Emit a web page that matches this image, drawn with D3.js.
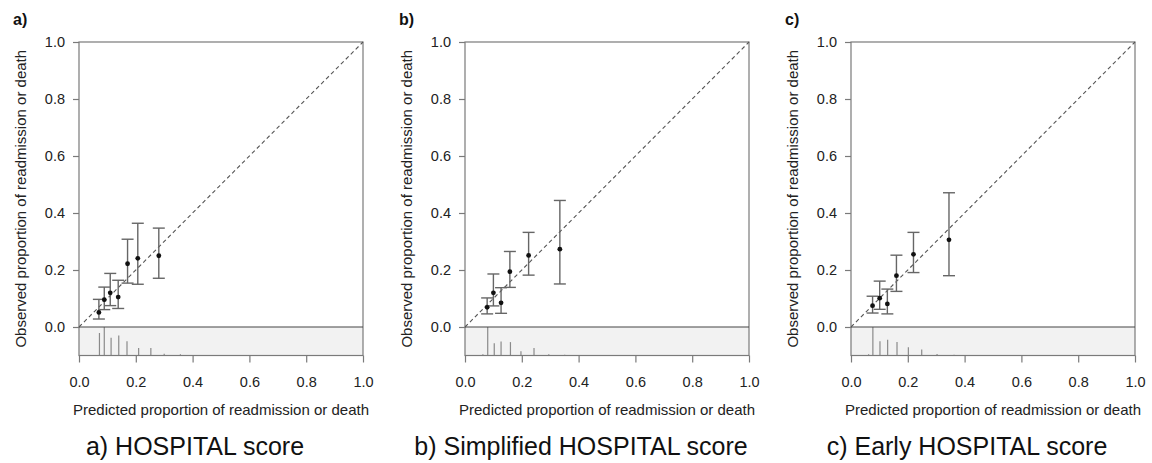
<!DOCTYPE html>
<html>
<head>
<meta charset="utf-8">
<script src="https://cdn.jsdelivr.net/npm/d3@7/dist/d3.min.js"></script>
<style>
  body { margin: 0; background: #fff; }
  svg text { font-family: "Liberation Sans", Arial, sans-serif; }
</style>
</head>
<body>
<div id="chart"></div>
<script>
// Calibration plots: observed vs predicted proportion of readmission or death

const panelTags = ['a)', 'b)', 'c)'];
const captions = ['a) HOSPITAL score', 'b) Simplified HOSPITAL score', 'c) Early HOSPITAL score'];
const axisTicks = [0, 0.2, 0.4, 0.6, 0.8, 1.0];

// a) HOSPITAL score
const predA = [0.070, 0.089, 0.110, 0.138, 0.171, 0.207, 0.281];
const obsA  = [0.051, 0.096, 0.120, 0.105, 0.222, 0.241, 0.250];
const lowA  = [0.028, 0.061, 0.075, 0.065, 0.154, 0.150, 0.171];
const highA = [0.097, 0.140, 0.188, 0.164, 0.308, 0.364, 0.347];
const spikeXA = [0.072, 0.089, 0.113, 0.140, 0.169, 0.210, 0.253, 0.300, 0.357];
const spikeHA = [0.79, 1.00, 0.62, 0.70, 0.50, 0.26, 0.26, 0.06, 0.04];

// b) Simplified HOSPITAL score
const predB = [0.078, 0.100, 0.127, 0.158, 0.224, 0.334];
const obsB  = [0.069, 0.120, 0.085, 0.194, 0.251, 0.273];
const lowB  = [0.046, 0.074, 0.048, 0.139, 0.182, 0.151];
const highB = [0.102, 0.186, 0.138, 0.265, 0.332, 0.444];
const spikeXB = [0.063, 0.080, 0.103, 0.127, 0.160, 0.197, 0.243, 0.295, 0.351];
const spikeHB = [0.04, 1.00, 0.43, 0.49, 0.47, 0.15, 0.26, 0.04, 0.03];

// c) Early HOSPITAL score
const predC = [0.076, 0.101, 0.128, 0.160, 0.220, 0.345];
const obsC  = [0.075, 0.101, 0.081, 0.180, 0.255, 0.306];
const lowC  = [0.049, 0.062, 0.046, 0.125, 0.191, 0.180];
const highC = [0.108, 0.161, 0.133, 0.252, 0.332, 0.471];
const spikeXC = [0.062, 0.077, 0.102, 0.129, 0.162, 0.202, 0.249, 0.303, 0.363];
const spikeHC = [0.04, 1.00, 0.50, 0.55, 0.47, 0.29, 0.21, 0.05, 0.03];

const panelData = [
  { pred: predA, obs: obsA, low: lowA, high: highA, sx: spikeXA, sh: spikeHA },
  { pred: predB, obs: obsB, low: lowB, high: highB, sx: spikeXB, sh: spikeHB },
  { pred: predC, obs: obsC, low: lowC, high: highC, sx: spikeXC, sh: spikeHC }
];

const width = 1152, height = 463;
const originX = [79, 465, 851];
const plotW = 284;
const yTop = 42, yZero = 327;

const svg = d3.select("#chart").append("svg")
  .attr("width", width)
  .attr("height", height)
  .style("background", "#fff");

panelData.forEach((p, i) => {
  const g = svg.append("g").attr("transform", `translate(${originX[i]},0)`);

  const x = d3.scaleLinear().domain([0, 1]).range([0, plotW]);
  const y = d3.scaleLinear().domain([0, 1]).range([yZero, yTop]);
  const yBot = y(-0.1);
  // spike histogram sits in the band between -0.1 and 0
  const spikeY = d3.scaleLinear().domain([0, 1]).range([yBot, y(0)]);

  // shaded band for the distribution of predictions
  g.append("rect")
    .attr("x", x(0)).attr("y", y(0))
    .attr("width", x(1) - x(0)).attr("height", yBot - y(0))
    .attr("fill", "#f2f2f2");

  // spikes
  g.selectAll(".spike").data(p.sx).join("line")
    .attr("x1", d => x(d)).attr("x2", d => x(d))
    .attr("y1", yBot)
    .attr("y2", (d, k) => spikeY(p.sh[k]))
    .attr("stroke", "#8a8a8a").attr("stroke-width", 1.2);

  // frame
  g.append("rect")
    .attr("x", x(0)).attr("y", y(1))
    .attr("width", x(1) - x(0)).attr("height", yBot - y(1))
    .attr("fill", "none").attr("stroke", "#7a7a7a").attr("stroke-width", 1.2);

  // zero line
  g.append("line")
    .attr("x1", x(0)).attr("x2", x(1))
    .attr("y1", y(0)).attr("y2", y(0))
    .attr("stroke", "#444").attr("stroke-width", 1.2);

  // ideal calibration diagonal
  g.append("line")
    .attr("x1", x(0)).attr("y1", y(0))
    .attr("x2", x(1)).attr("y2", y(1))
    .attr("stroke", "#555").attr("stroke-width", 1.1)
    .attr("stroke-dasharray", "4,3");

  // axes
  const yAxis = g.append("g")
    .call(d3.axisLeft(y).tickValues(axisTicks).tickFormat(d3.format(".1f")).tickSize(6).tickPadding(8));
  const xAxis = g.append("g")
    .attr("transform", `translate(0,${yBot})`)
    .call(d3.axisBottom(x).tickValues(axisTicks).tickFormat(d3.format(".1f")).tickSize(7).tickPadding(14));
  [yAxis, xAxis].forEach(a => {
    a.select(".domain").remove();
    a.selectAll("line").attr("stroke", "#7a7a7a").attr("stroke-width", 1.2);
    a.selectAll("text").style("font-size", "14.5px").attr("fill", "#222");
  });

  // error bars
  const cap = 6;
  const bars = g.append("g");
  p.pred.forEach((px, k) => {
    const cx = x(px);
    bars.append("line")
      .attr("x1", cx).attr("x2", cx)
      .attr("y1", y(p.low[k])).attr("y2", y(p.high[k]))
      .attr("stroke", "#666").attr("stroke-width", 1.4);
    [p.low[k], p.high[k]].forEach(v => {
      bars.append("line")
        .attr("x1", cx - cap).attr("x2", cx + cap)
        .attr("y1", y(v)).attr("y2", y(v))
        .attr("stroke", "#666").attr("stroke-width", 1.4);
    });
  });
  g.selectAll(".pt").data(p.pred).join("circle")
    .attr("cx", d => x(d))
    .attr("cy", (d, k) => y(p.obs[k]))
    .attr("r", 2.4)
    .attr("fill", "#111");

  // axis titles
  g.append("text")
    .attr("x", x(0.5)).attr("y", 415)
    .attr("text-anchor", "middle")
    .style("font-size", "15px").attr("fill", "#222")
    .text("Predicted proportion of readmission or death");

  g.append("text")
    .attr("transform", `translate(-53,${(yTop + yBot) / 2}) rotate(-90)`)
    .attr("text-anchor", "middle")
    .style("font-size", "15px").attr("fill", "#222")
    .text("Observed proportion of readmission or death");

  // panel tag
  g.append("text")
    .attr("x", -66).attr("y", 25)
    .style("font-size", "16px").style("font-weight", "bold")
    .attr("fill", "#111")
    .text(panelTags[i]);

  // caption
  g.append("text")
    .attr("x", x(0.5) - 26).attr("y", 455)
    .attr("text-anchor", "middle")
    .style("font-size", "25px").attr("fill", "#111")
    .text(captions[i]);
});
</script>
</body>
</html>
